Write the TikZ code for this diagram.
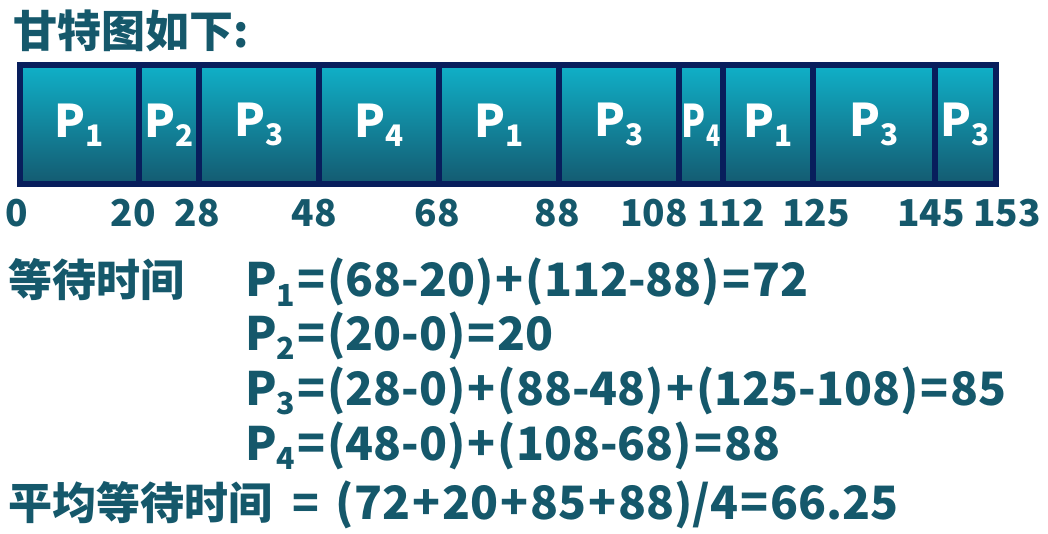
\documentclass[tikz,border=0pt]{standalone}
\usepackage{fontspec}
\setmainfont{Noto Sans CJK SC}[BoldFont={Noto Sans CJK SC Black}]
\usepackage{graphicx}
\usetikzlibrary{positioning}
\definecolor{txtteal}{RGB}{21,88,107}
\definecolor{cellnavy}{RGB}{8,30,92}
\definecolor{celltop}{RGB}{16,176,200}
\definecolor{cellbot}{RGB}{20,90,112}
\newcommand\pidx[1]{P\raisebox{-0.2em}{\scalebox{0.66}{#1}}}
\newcommand\opr[1]{\kern2pt#1\kern2pt}
\tikzset{
    cell/.style = {rectangle, draw=cellnavy, line width=6pt, anchor=north west, minimum height=119.5pt, inner sep=0pt, outer sep=0pt, top color=celltop, bottom color=cellbot, text=white, font=\bfseries\fontsize{45}{45}\selectfont},
    tick/.style = {anchor=base, inner sep=0pt, text=txtteal, font=\bfseries\fontsize{37}{37}\selectfont},
    eqn/.style = {anchor=base west, inner sep=0pt, text=txtteal, font=\bfseries\fontsize{46}{46}\selectfont},
    heading/.style = {anchor=base west, inner sep=0pt, text=txtteal, font=\bfseries\fontsize{44}{44}\selectfont}
}
\begin{document}
\begin{tikzpicture}[x=1pt,y=-1pt]
  \useasboundingbox (0,0) rectangle (1048,534);
  \node[heading] (title) at (13,48) {甘特图如下:};

  % gantt cells
  \node[cell, minimum width=119.5pt] (c1) at (19.5,65) {\pidx{1}};
  \node[cell, minimum width=60pt]    (c2) at (139,65) {\pidx{2}};
  \node[cell, minimum width=120pt]   (c3) at (199,65) {\pidx{3}};
  \node[cell, minimum width=120pt]   (c4) at (319,65) {\pidx{4}};
  \node[cell, minimum width=120pt]   (c5) at (439,65) {\pidx{1}};
  \node[cell, minimum width=120pt]   (c6) at (559,65) {\pidx{3}};
  \node[cell, minimum width=44pt]    (c7) at (679,65) {\scalebox{0.78}[1]{\pidx{4}}};
  \node[cell, minimum width=90pt]    (c8) at (723,65) {\pidx{1}};
  \node[cell, minimum width=122pt]   (c9) at (813,65) {\pidx{3}};
  \node[cell, minimum width=60.5pt]  (c10) at (935,65) {\pidx{3}};

  % time marks
  \node[tick] (t0)   at (17,227)   {0};
  \node[tick] (t20)  at (133,227)  {20};
  \node[tick] (t28)  at (197,227)  {28};
  \node[tick] (t48)  at (314,227)  {48};
  \node[tick] (t68)  at (437,227)  {68};
  \node[tick] (t88)  at (557,227)  {88};
  \node[tick] (t108) at (654,227)  {108};
  \node[tick] (t112) at (731,227)  {112};
  \node[tick] (t125) at (816,227)  {125};
  \node[tick] (t145) at (931,227)  {145};
  \node[tick] (t153) at (1007,227) {153};

  % waiting times
  \node[heading] (wait) at (8,297) {等待时间};
  \node[eqn] (w1) at (245,297) {\pidx{1}\opr{=}(68-20)\opr{+}(112-88)\opr{=}72};
  \node[eqn] (w2) at (245,350) {\pidx{2}\opr{=}(20-0)\opr{=}20};
  \node[eqn] (w3) at (245,405) {\pidx{3}\opr{=}(28-0)\opr{+}(88-48)\opr{+}(125-108)\opr{=}85};
  \node[eqn] (w4) at (245,460) {\pidx{4}\opr{=}(48-0)\opr{+}(108-68)\opr{=}88};
  \node[heading] (avg) at (8,519) {平均等待时间\kern20pt=\kern17pt{\fontsize{46}{46}\selectfont(72\opr{+}20\opr{+}85\opr{+}88)/4\opr{=}66.25}};
\end{tikzpicture}
\end{document}
